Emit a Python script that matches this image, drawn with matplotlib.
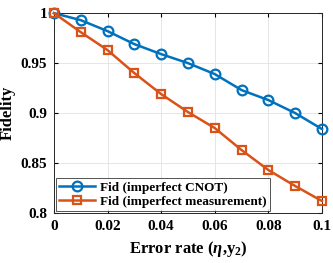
import numpy as np
import matplotlib
matplotlib.use('Agg')
import matplotlib.pyplot as plt

plt.rcParams['font.family'] = 'Liberation Serif'
plt.rcParams['font.weight'] = 'bold'
plt.rcParams['axes.labelweight'] = 'bold'
plt.rcParams['mathtext.fontset'] = 'custom'
plt.rcParams['mathtext.rm'] = 'Liberation Serif:bold'
plt.rcParams['mathtext.it'] = 'Liberation Serif:bold:italic'
plt.rcParams['mathtext.bf'] = 'Liberation Serif:bold'

error_rate = [0, 0.01, 0.02, 0.03, 0.04, 0.05, 0.06, 0.07, 0.08, 0.09, 0.1]
fid_cnot = [1.0, 0.993, 0.982, 0.969, 0.959, 0.950, 0.939, 0.923, 0.913, 0.900, 0.884]
fid_meas = [1.0, 0.981, 0.963, 0.940, 0.919, 0.901, 0.885, 0.863, 0.843, 0.827, 0.812]
labels = ['Fid (imperfect CNOT)', 'Fid (imperfect measurement)']

fig = plt.figure(figsize=(3.33, 2.63), dpi=100)
ax = fig.add_axes([0.162, 0.19, 0.805, 0.76])

ax.plot(error_rate, fid_cnot, '-o', color='#0072BD', lw=1.8, ms=7,
        mfc='none', mew=1.6, label=labels[0], clip_on=False, zorder=3)
ax.plot(error_rate, fid_meas, '-s', color='#D95319', lw=1.8, ms=6,
        mfc='none', mew=1.6, label=labels[1], clip_on=False, zorder=3)

ax.set_xlim(0, 0.1)
ax.set_ylim(0.8, 1.0)
ax.set_xticks([0, 0.02, 0.04, 0.06, 0.08, 0.1])
ax.set_xticklabels(['0', '0.02', '0.04', '0.06', '0.08', '0.1'])
ax.set_yticks([0.8, 0.85, 0.9, 0.95, 1.0])
ax.set_yticklabels(['0.8', '0.85', '0.9', '0.95', '1'])
ax.tick_params(direction='in', top=True, right=True, labelsize=11, length=3, pad=5)
ax.grid(True, color='#e6e6e6', lw=0.7)
ax.set_axisbelow(True)
for s in ax.spines.values():
    s.set_linewidth(0.7)
    s.set_color('#262626')

ax.set_xlabel(r'Error rate ($\mathit{\eta}$,y$_2$)', fontsize=12, labelpad=4)
ax.set_ylabel('Fidelity', fontsize=12, labelpad=3)

leg = ax.legend(loc='lower left', fontsize=9.5, frameon=True, fancybox=False,
                borderaxespad=0.15, handlelength=2.7, borderpad=0.25,
                labelspacing=0.15, handletextpad=0.4)
leg.get_frame().set_edgecolor('#262626')
leg.get_frame().set_linewidth(0.7)

fig.savefig('out.png', dpi=100)
